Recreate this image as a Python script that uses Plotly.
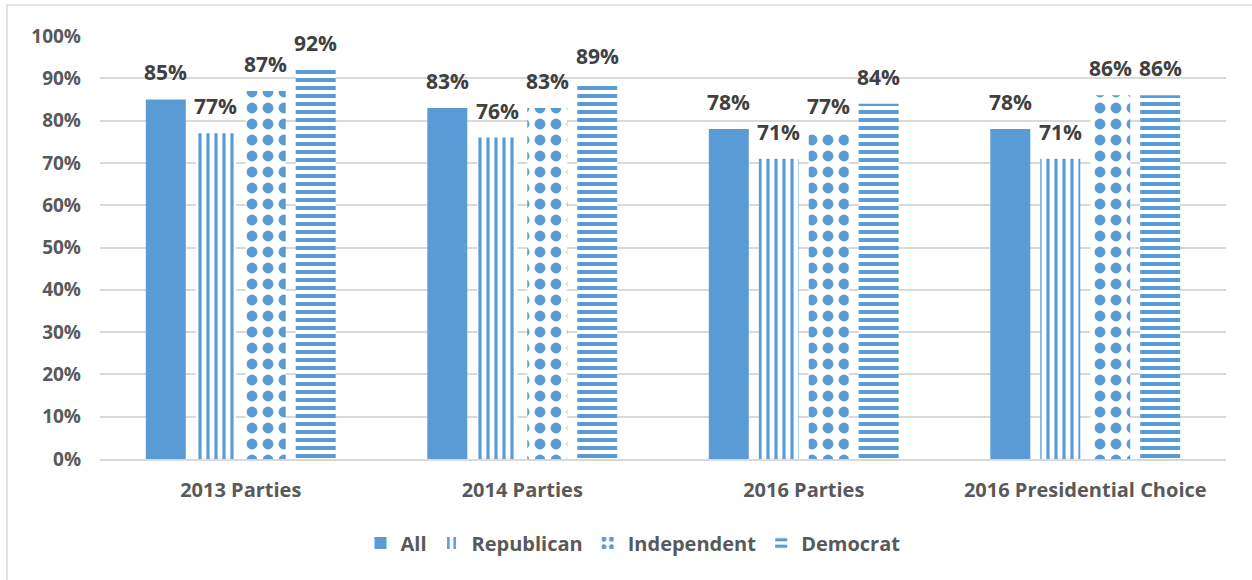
import plotly.graph_objects as go

categories = ["2013 Parties", "2014 Parties", "2016 Parties", "2016 Presidential Choice"]
series_names = ["All", "Republican", "Independent", "Democrat"]
all_vals = [0.85, 0.83, 0.78, 0.78]
republican_vals = [0.77, 0.76, 0.71, 0.71]
independent_vals = [0.87, 0.83, 0.77, 0.86]
democrat_vals = [0.92, 0.89, 0.84, 0.86]
y_ticks = [i / 10 for i in range(11)]

BLUE = "#5B9BD5"
GRID = "#D9D9D9"
FONT = "Open Sans"

series_values = [all_vals, republican_vals, independent_vals, democrat_vals]
patterns = [
    dict(shape=""),
    dict(shape="|", size=8, solidity=0.4, fgcolor=BLUE, bgcolor="white", fillmode="replace"),
    dict(shape=".", size=16, solidity=0.36, fgcolor=BLUE, bgcolor="white", fillmode="replace"),
    dict(shape="-", size=8, solidity=0.5, fgcolor=BLUE, bgcolor="white", fillmode="replace"),
]

fig = go.Figure()
for name, vals, pat in zip(series_names, series_values, patterns):
    fig.add_trace(go.Bar(
        x=categories, y=vals, name=name,
        marker=dict(color=BLUE, line=dict(width=0), pattern=pat),
    ))

# plot-area geometry (pixels) used to place value labels over each bar
W, H = 1252, 580
ML, MR, MT, MB = 100, 26, 36, 121
plot_w = W - ML - MR
group_w = plot_w / len(categories)
bargap = 0.29
slot = group_w * (1 - bargap) / len(series_names)

annotations = []
for s, vals in enumerate(series_values):
    for c, v in enumerate(vals):
        annotations.append(dict(
            x=categories[c], y=v, xref="x", yref="y",
            text=f"{round(v * 100)}%", showarrow=False,
            xshift=(s - (len(series_names) - 1) / 2) * slot,
            yanchor="bottom", yshift=11,
            font=dict(family=FONT, size=21, color="#404040", weight="bold"),
        ))

fig.update_layout(
    width=W, height=H,
    margin=dict(l=ML, r=MR, t=MT, b=MB),
    paper_bgcolor="white", plot_bgcolor="white",
    barmode="group", bargap=bargap, bargroupgap=0.2,
    font=dict(family=FONT, color="#595959", size=19, weight="bold"),
    showlegend=True,
    legend=dict(
        orientation="h", x=0.5 - 30 / plot_w, xanchor="center",
        y=-(543 - (H - MB)) / (H - MT - MB), yanchor="middle",
        font=dict(family=FONT, size=20, color="#595959", weight="bold"),
        itemwidth=30,
    ),
    annotations=annotations,
    shapes=[dict(
        type="rect", xref="paper", yref="paper",
        x0=(7 - ML) / plot_w, x1=1.2,
        y0=-1, y1=(H - MB - 5) / (H - MT - MB),
        line=dict(color=GRID, width=1.5), fillcolor="rgba(0,0,0,0)", layer="below",
    )],
)
fig.update_xaxes(
    showgrid=False, showline=True, linecolor=GRID, linewidth=2,
    ticks="", ticklabelstandoff=12,
    tickfont=dict(family=FONT, size=20, color="#595959", weight="bold"),
)
fig.update_yaxes(
    range=[0, 1], tickvals=y_ticks, tickformat=".0%",
    showgrid=True, gridcolor=GRID, gridwidth=1.5,
    zeroline=False, showline=False, ticks="", ticklabelstandoff=18,
    tickfont=dict(family=FONT, size=19, color="#595959", weight="bold"),
)

fig.write_html("out.html")
